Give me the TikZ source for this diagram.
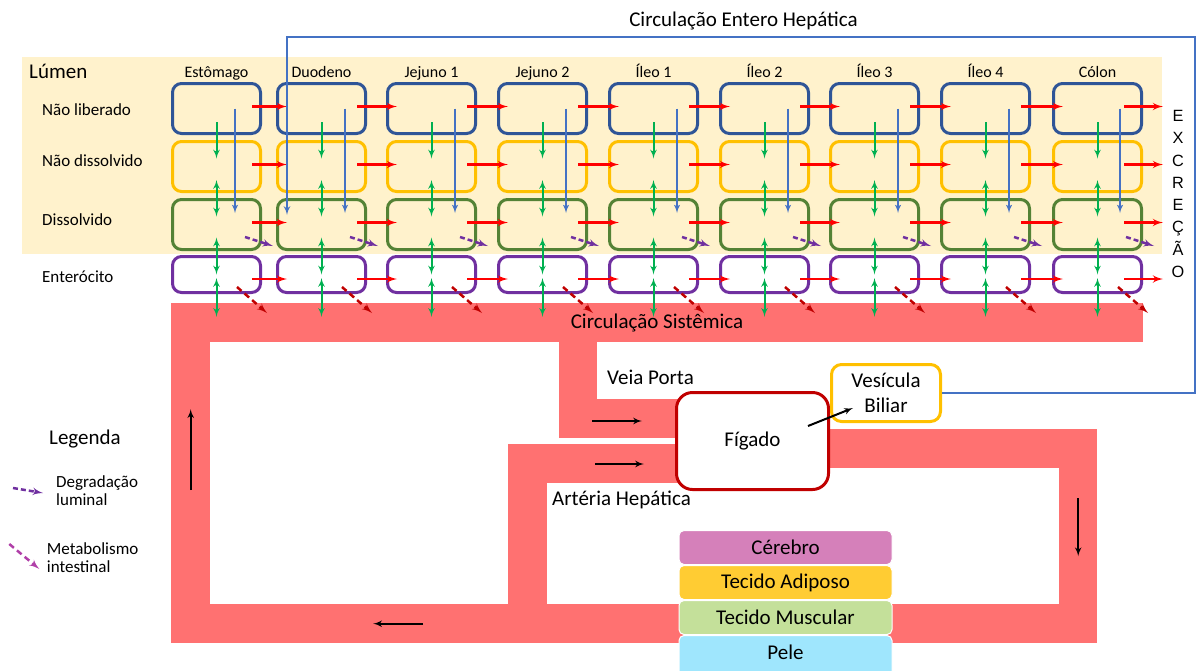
\documentclass[tikz,border=0pt]{standalone}
\usepackage{fontspec}
\setmainfont{Carlito}
\newfontfamily\arialfont{Liberation Sans}
\usepackage{tikz}
\usetikzlibrary{shapes,arrows,calc,positioning}

\definecolor{cLumen}{HTML}{FFF2CC}
\definecolor{cNavy}{HTML}{2F5597}
\definecolor{cGold}{HTML}{FFC000}
\definecolor{cLeaf}{HTML}{548235}
\definecolor{cPurple}{HTML}{7030A0}
\definecolor{cBlood}{HTML}{FF7171}
\definecolor{cRed}{HTML}{FF0000}
\definecolor{cGreen}{HTML}{00B050}
\definecolor{cBile}{HTML}{4472C4}
\definecolor{cDark}{HTML}{C00000}
\definecolor{cMagenta}{HTML}{B03FA8}
\definecolor{cBrain}{HTML}{D580BA}
\definecolor{cFat}{HTML}{FFCC33}
\definecolor{cMuscle}{HTML}{C4E09A}
\definecolor{cSkin}{HTML}{9FE6FD}

\tikzstyle{line} = [draw, -latex']
\tikzstyle{bigtxt} = [font=\fontsize{21}{25}\selectfont]
\tikzstyle{rowtxt} = [font=\fontsize{17}{18}\selectfont]
\tikzstyle{hdrtxt} = [font=\fontsize{16}{19}\selectfont]
\tikzstyle{compart} = [draw, rectangle, rounded corners=9pt, line width=3pt, minimum width=88pt, minimum height=50pt, inner sep=0pt]
\tikzstyle{entero} = [compart, draw=cPurple, minimum height=36pt]
\tikzstyle{transit} = [line, cRed, line width=2.5pt]
\tikzstyle{uptake} = [line, cGreen, line width=2pt]
\tikzstyle{exchange} = [uptake, latex'-latex']
\tikzstyle{bile} = [line, cBile, line width=1.8pt]
\tikzstyle{degrad} = [line, cPurple, line width=2.5pt, dash pattern=on 5pt off 3pt]
\tikzstyle{metab} = [line, cDark, line width=2.5pt, dash pattern=on 6pt off 4pt]
\tikzstyle{flow} = [line, black, line width=2pt]
\tikzstyle{band} = [rectangle, fill=cBlood, inner sep=0pt, anchor=north west]
\tikzstyle{organ} = [rectangle, rounded corners=5pt, draw=white, line width=1pt, minimum width=213pt, minimum height=34pt, bigtxt]

\begin{document}
\begin{tikzpicture}[x=1pt, y=-1pt]
    \useasboundingbox (0,0) rectangle (1198,670);

    % lumen
    \fill[cLumen] (22,57) rectangle (1162,254);
    \node[anchor=base west, inner sep=0pt, font=\fontsize{21}{25}\selectfont] (lumen) at (29,78) {Lúmen};
    \node[rowtxt, anchor=base west, inner sep=0pt] (naolib) at (42,115.5) {Não liberado};
    \node[rowtxt, anchor=base west, inner sep=0pt] (naodis) at (42,166.5) {Não dissolvido};
    \node[rowtxt, anchor=base west, inner sep=0pt] (dis) at (42,225.5) {Dissolvido};
    \node[rowtxt, anchor=base west, inner sep=0pt] (ent) at (42,282.5) {Enterócito};

    % circulacao sistemica
    \node[band, minimum width=39pt, minimum height=340pt] (retorno) at (171,303) {};
    \node[band, minimum width=926pt, minimum height=39pt] (base) at (171,604) {};
    \node[band, minimum width=38pt, minimum height=98pt] (portav) at (559,340) {};
    \node[band, minimum width=130pt, minimum height=39pt] (porta) at (559,399) {};
    \node[band, minimum width=39pt, minimum height=165pt] (arteriav) at (508,444) {};
    \node[band, minimum width=180pt, minimum height=39pt] (arteria) at (508,444) {};
    \node[band, minimum width=277pt, minimum height=39pt] (saida) at (820,429) {};
    \node[band, minimum width=38pt, minimum height=214pt] (descida) at (1059,429) {};
    \node[band, bigtxt, anchor=center, minimum width=972pt, minimum height=39pt] (sist) at (657,322.5) {Circulação Sistêmica};

    \draw[flow] ([yshift=-17pt]retorno.center) -- ([yshift=64pt]retorno.center);
    \draw[flow] ([xshift=-211pt]base.center) -- ([xshift=-261pt]base.center);
    \draw[flow] ([yshift=38pt]descida.center) -- ([yshift=-20pt]descida.center);

    % compartimentos
    \foreach \x/\bx/\name [count=\c] in {216.5/18.5/Estômago, 321.5/23.5/Duodeno, 431.5/23.5/Jejuno 1, 542.5/23.5/Jejuno 2, 653.5/23.5/Íleo 1, 764.5/23.5/Íleo 2, 874.5/23.5/Íleo 3, 985.5/23.5/Íleo 4, 1097.5/22.5/Cólon} {
        \node[hdrtxt, anchor=base] (h-\c) at (\x,77) {\name};
        \node[compart, draw=cNavy] (b-\c-1) at (\x,108.5) {};
        \node[compart, draw=cGold] (b-\c-2) at (\x,166.5) {};
        \node[compart, draw=cLeaf] (b-\c-3) at (\x,224.5) {};
        \node[entero] (b-\c-4) at (\x,274.5) {};
        \draw[uptake] ([yshift=-13.5pt]b-\c-1.center) -- ([yshift=8pt]b-\c-2.center);
        \draw[exchange] ([yshift=-13.5pt]b-\c-2.center) -- ([yshift=8pt]b-\c-3.center);
        \draw[exchange] ([yshift=-13pt]b-\c-3.center) -- (b-\c-4.center);
        \draw[exchange] ([yshift=-3.5pt]b-\c-4.center) -- ($(b-\c-4.center |- sist.north)+(0,14)$);
        \draw[bile] ([xshift=\bx pt]b-\c-1.center) -- ([xshift=\bx pt, yshift=11.5pt]b-\c-3.center);
        \draw[degrad] ([xshift=-17pt,yshift=14pt]b-\c-3.south east) -- ([xshift=11pt,yshift=5pt]b-\c-3.south east);
        \draw[metab] ([xshift=-25pt,yshift=7pt]b-\c-4.south east) -- ([xshift=5pt,yshift=-19pt]b-\c-4.south east);
    }

    % transito
    \foreach \c [remember=\c as \p (initially 1)] in {2,...,9} {
        \foreach \r/\dy in {1/2,2/2,3/2,4/-4.5}
            \draw[transit] ([xshift=-10pt,yshift=\dy pt]b-\p-\r.east) -- ([xshift=11pt,yshift=\dy pt]b-\c-\r.west);
    }

    % excrecao
    \node[font=\arialfont\fontsize{16.3}{22.3}\selectfont, align=center] (excr) at (1178,194) {E\\X\\C\\R\\E\\Ç\\Ã\\O};
    \foreach \r/\dy in {1/2,2/2,3/2,4/-4.5}
        \draw[transit] ([xshift=-19pt,yshift=\dy pt]b-9-\r.east) -- ([xshift=20pt,yshift=\dy pt]b-9-\r.east);

    % figado e vesicula
    \node[draw=cDark, line width=3pt, fill=white, rounded corners=16pt, minimum width=152pt, minimum height=97pt, bigtxt] (figado) at (752.5,441) {Fígado};
    \node[draw=cGold, line width=3pt, fill=white, rounded corners=10pt, minimum width=109pt, minimum height=57pt, bigtxt, align=center] (vesicula) at (886,393) {Vesícula\\Biliar};
    \draw[flow] ([xshift=-22pt,yshift=15pt]figado.east) -- ([xshift=23pt,yshift=-15pt]vesicula.west);
    \draw[flow] ([xshift=-83pt,yshift=20pt]figado.west) -- ([xshift=-33pt,yshift=20pt]figado.west);
    \draw[flow] ([xshift=-80pt,yshift=-23pt]figado.west) -- ([xshift=-31pt,yshift=-23pt]figado.west);
    \node[bigtxt, anchor=base west, inner sep=0pt] (vp) at (607,384) {Veia Porta};
    \node[bigtxt, anchor=base west, inner sep=0pt] (ah) at (552,505.5) {Artéria Hepática};

    % circulacao entero hepatica
    \node[bigtxt, anchor=base] (ehc) at (743.5,26) {Circulação Entero Hepática};
    \coordinate (eh) at (1195,37);
    \draw[bile, line width=2pt] (vesicula.east) -| (eh) -| ([xshift=11pt,yshift=9.5pt]b-2-3.west);

    % tecidos
    \node[organ, fill=cBrain] (cerebro) at (785.5,547.5) {Cérebro};
    \node[organ, fill=cFat, below=0pt of cerebro] (adiposo) {Tecido Adiposo};
    \node[organ, fill=cMuscle, below=0pt of adiposo] (muscular) {Tecido Muscular};
    \node[organ, fill=cSkin, below=0pt of muscular, minimum height=44pt, text depth=10pt] (pele) {Pele};

    % legenda
    \node[bigtxt, anchor=base west, inner sep=0pt] (leg) at (49,444) {Legenda};
    \node[rowtxt, anchor=west, inner sep=0pt, align=left] (deg) at (56,490.7) {Degradação\\luminal};
    \node[rowtxt, anchor=west, inner sep=0pt, align=left] (met) at (46.7,557.3) {Metabolismo\\intestinal};
    \draw[degrad] ([xshift=-43pt,yshift=2.7pt]deg.west) -- ([xshift=-13pt,yshift=-2.3pt]deg.west);
    \draw[metab, cMagenta] ([xshift=-37.4pt,yshift=13.3pt]met.west) -- ([xshift=-7.4pt,yshift=-11.7pt]met.west);
\end{tikzpicture}
\end{document}
